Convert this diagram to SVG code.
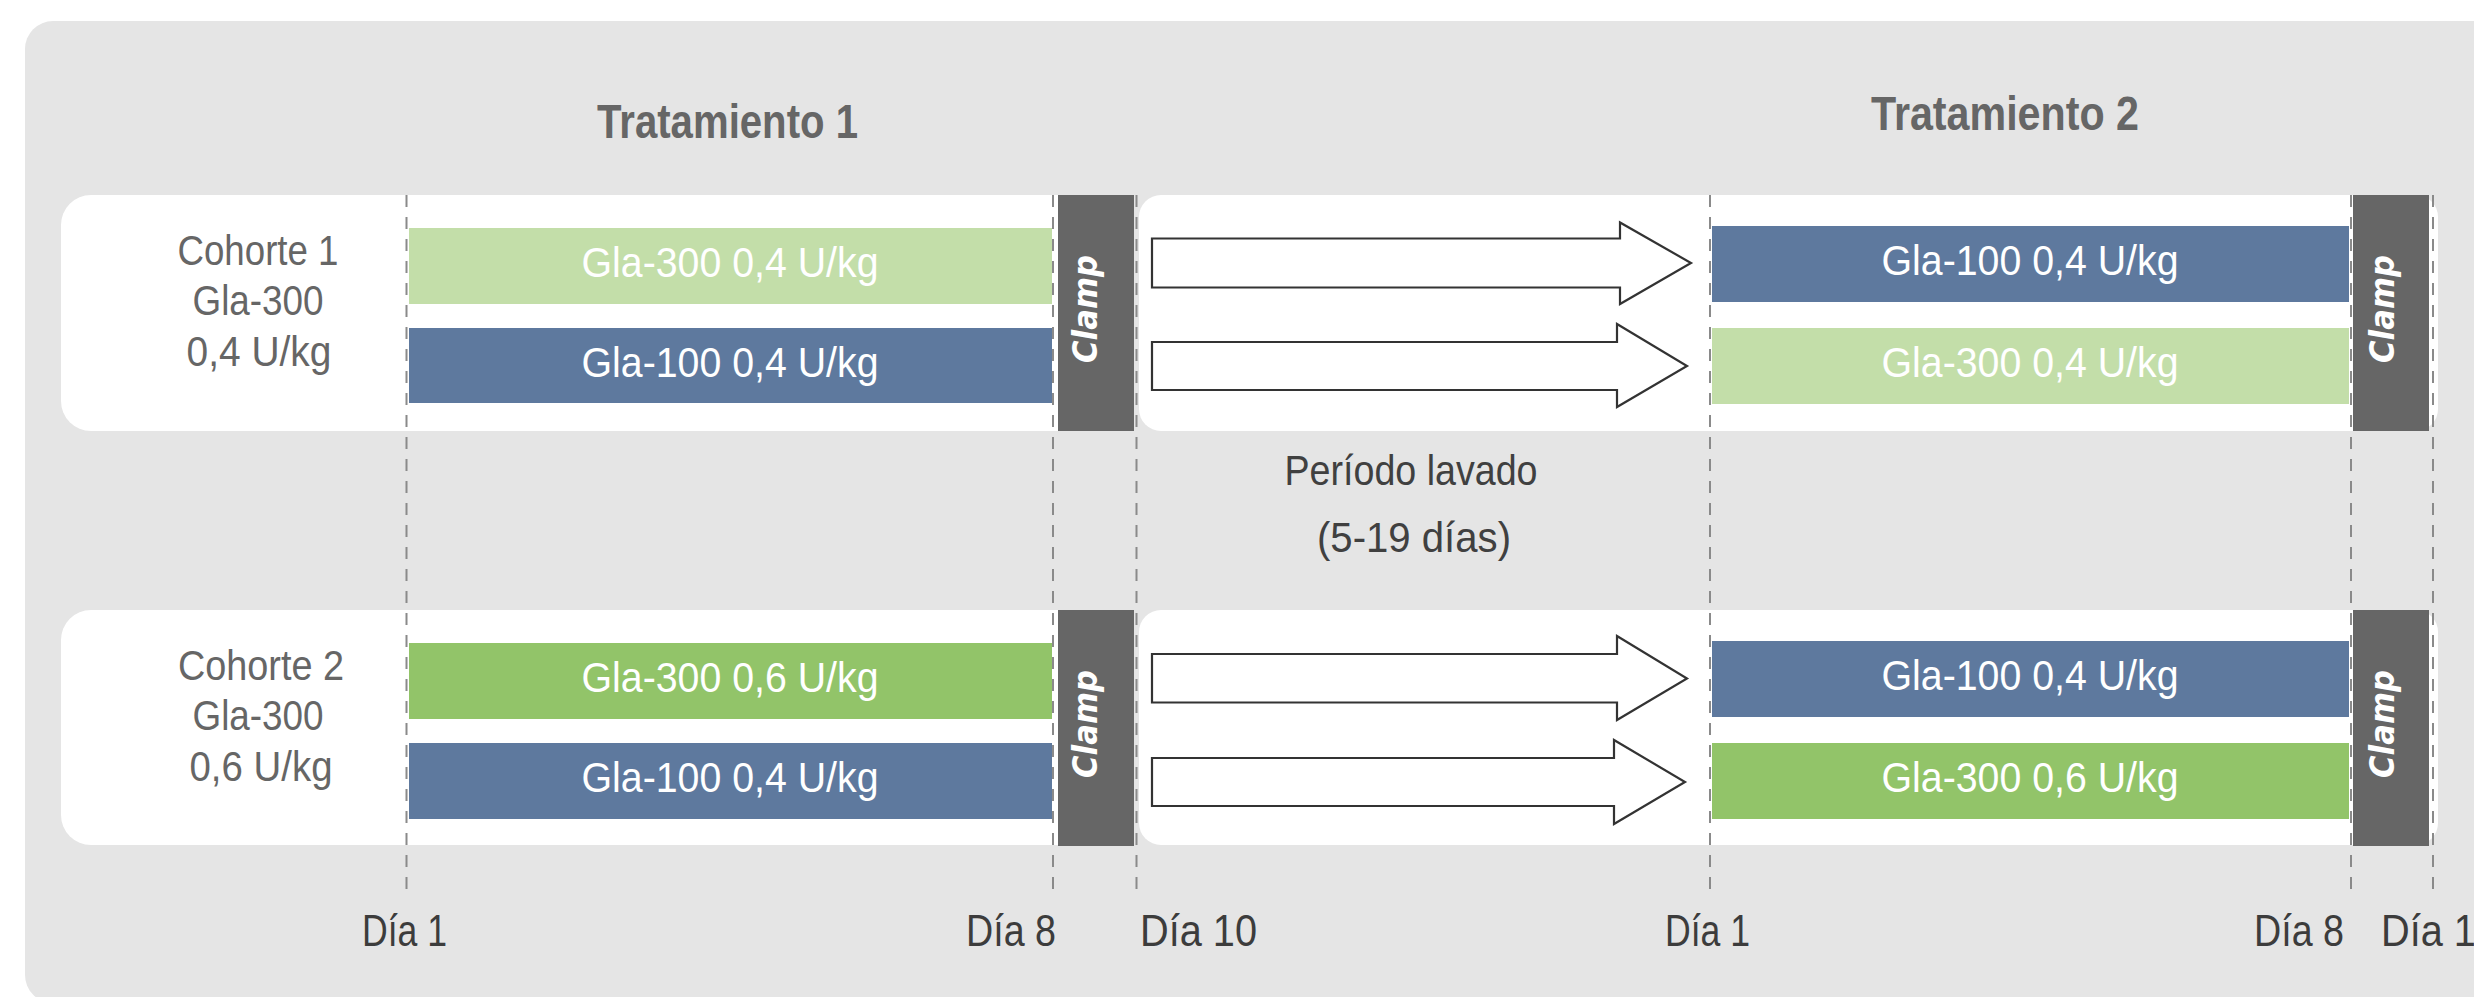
<svg xmlns="http://www.w3.org/2000/svg" width="2474" height="997" viewBox="0 0 2474 997">
  <style>
    .lbl { font-family: "Liberation Sans", Arial, sans-serif; }
    .title { font-size: 48px; font-weight: bold; fill: #666666; text-anchor: middle; }
    .cohort { font-size: 42px; fill: #666666; text-anchor: middle; }
    .bartxt { font-size: 42px; fill: #ffffff; text-anchor: middle; }
    .note { font-size: 42px; fill: #404040; text-anchor: middle; }
    .day { font-size: 44px; fill: #3c3c3c; }
    .clamp-txt { font-family: "DejaVu Sans", Verdana, sans-serif; font-size: 34px; font-weight: bold; font-style: italic; fill: #ffffff; text-anchor: middle; }
    .row { fill: #ffffff; }
    .clamp { fill: #666666; }
    .g300a { fill: #c3dea9; }
    .g300b { fill: #92c469; }
    .g100 { fill: #5e799e; }
    .guide { stroke: #8a8a8a; stroke-width: 2; stroke-dasharray: 12 10; fill: none; }
    .arrow { fill: #ffffff; stroke: #333333; stroke-width: 2.2; stroke-linejoin: miter; }
  </style>

  <!-- background panel -->
  <rect x="25" y="21" width="2520" height="982" rx="28" fill="#e5e5e5"/>

  <!-- row backgrounds -->
  <g id="row1-bg">
    <rect class="row" x="61" y="195" width="1073" height="236" rx="30"/>
    <rect class="row" x="1139" y="195" width="1299" height="236" rx="22"/>
  </g>
  <g id="row2-bg">
    <rect class="row" x="61" y="610" width="1073" height="235" rx="30"/>
    <rect class="row" x="1139" y="610" width="1299" height="235" rx="22"/>
  </g>

  <!-- titles -->
  <g id="title-t1"><text class="lbl title" x="727.5" y="138" textLength="261" lengthAdjust="spacingAndGlyphs">Tratamiento 1</text></g>
  <g id="title-t2"><text class="lbl title" x="2005" y="130" textLength="268" lengthAdjust="spacingAndGlyphs">Tratamiento 2</text></g>

  <!-- cohort labels -->
  <g id="cohort1">
    <text class="lbl cohort" x="258" y="265" textLength="161" lengthAdjust="spacingAndGlyphs">Cohorte 1</text>
    <text class="lbl cohort" x="258" y="315" textLength="131" lengthAdjust="spacingAndGlyphs">Gla-300</text>
    <text class="lbl cohort" x="259" y="366" textLength="145" lengthAdjust="spacingAndGlyphs">0,4 U/kg</text>
  </g>
  <g id="cohort2">
    <text class="lbl cohort" x="261" y="680" textLength="166" lengthAdjust="spacingAndGlyphs">Cohorte 2</text>
    <text class="lbl cohort" x="258" y="730" textLength="131" lengthAdjust="spacingAndGlyphs">Gla-300</text>
    <text class="lbl cohort" x="261" y="781" textLength="143" lengthAdjust="spacingAndGlyphs">0,6 U/kg</text>
  </g>

  <!-- day guides -->
  <g id="guides">
    <line class="guide" x1="406.5" y1="195" x2="406.5" y2="895"/>
    <line class="guide" x1="1053" y1="195" x2="1053" y2="895"/>
    <line class="guide" x1="1136.5" y1="195" x2="1136.5" y2="895"/>
    <line class="guide" x1="1710" y1="195" x2="1710" y2="895"/>
    <line class="guide" x1="2351" y1="195" x2="2351" y2="895"/>
    <line class="guide" x1="2433" y1="195" x2="2433" y2="895"/>
  </g>

  <!-- treatment bars, cohort 1 -->
  <g id="c1-t1-gla300">
    <rect class="g300a" x="409" y="228" width="643" height="76"/>
    <text class="lbl bartxt" x="730" y="277" textLength="297" lengthAdjust="spacingAndGlyphs">Gla-300 0,4 U/kg</text>
  </g>
  <g id="c1-t1-gla100">
    <rect class="g100" x="409" y="328" width="643" height="75"/>
    <text class="lbl bartxt" x="730" y="377" textLength="297" lengthAdjust="spacingAndGlyphs">Gla-100 0,4 U/kg</text>
  </g>
  <g id="c1-t2-gla100">
    <rect class="g100" x="1712" y="226" width="637" height="76"/>
    <text class="lbl bartxt" x="2030" y="275" textLength="297" lengthAdjust="spacingAndGlyphs">Gla-100 0,4 U/kg</text>
  </g>
  <g id="c1-t2-gla300">
    <rect class="g300a" x="1712" y="328" width="637" height="76"/>
    <text class="lbl bartxt" x="2030" y="377" textLength="297" lengthAdjust="spacingAndGlyphs">Gla-300 0,4 U/kg</text>
  </g>

  <!-- treatment bars, cohort 2 -->
  <g id="c2-t1-gla300">
    <rect class="g300b" x="409" y="643" width="643" height="76"/>
    <text class="lbl bartxt" x="730" y="692" textLength="297" lengthAdjust="spacingAndGlyphs">Gla-300 0,6 U/kg</text>
  </g>
  <g id="c2-t1-gla100">
    <rect class="g100" x="409" y="743" width="643" height="76"/>
    <text class="lbl bartxt" x="730" y="792" textLength="297" lengthAdjust="spacingAndGlyphs">Gla-100 0,4 U/kg</text>
  </g>
  <g id="c2-t2-gla100">
    <rect class="g100" x="1712" y="641" width="637" height="76"/>
    <text class="lbl bartxt" x="2030" y="690" textLength="297" lengthAdjust="spacingAndGlyphs">Gla-100 0,4 U/kg</text>
  </g>
  <g id="c2-t2-gla300">
    <rect class="g300b" x="1712" y="743" width="637" height="76"/>
    <text class="lbl bartxt" x="2030" y="792" textLength="297" lengthAdjust="spacingAndGlyphs">Gla-300 0,6 U/kg</text>
  </g>

  <!-- clamp blocks -->
  <g id="clamp-c1-t1">
    <rect class="clamp" x="1058" y="195" width="76" height="236"/>
    <text class="clamp-txt" transform="translate(1097,309) rotate(-90)" textLength="108" lengthAdjust="spacingAndGlyphs">Clamp</text>
  </g>
  <g id="clamp-c1-t2">
    <rect class="clamp" x="2353" y="195" width="76" height="236"/>
    <text class="clamp-txt" transform="translate(2394,309) rotate(-90)" textLength="108" lengthAdjust="spacingAndGlyphs">Clamp</text>
  </g>
  <g id="clamp-c2-t1">
    <rect class="clamp" x="1058" y="610" width="76" height="236"/>
    <text class="clamp-txt" transform="translate(1097,724) rotate(-90)" textLength="108" lengthAdjust="spacingAndGlyphs">Clamp</text>
  </g>
  <g id="clamp-c2-t2">
    <rect class="clamp" x="2353" y="610" width="76" height="236"/>
    <text class="clamp-txt" transform="translate(2394,724) rotate(-90)" textLength="108" lengthAdjust="spacingAndGlyphs">Clamp</text>
  </g>

  <!-- washout arrows -->
  <g id="connectors">
    <path class="arrow" d="M1152,238.5 H1620 V222.5 L1691,263 L1620,304 V287.5 H1152 Z"/>
    <path class="arrow" d="M1152,342 H1617 V324 L1687,366 L1617,407 V390 H1152 Z"/>
    <path class="arrow" d="M1152,654 H1617 V636 L1687,678.5 L1617,720 V702.5 H1152 Z"/>
    <path class="arrow" d="M1152,758 H1614 V740 L1685,782 L1614,824 V806 H1152 Z"/>
  </g>

  <!-- washout label -->
  <g id="washout">
    <text class="lbl note" x="1411" y="485" textLength="253" lengthAdjust="spacingAndGlyphs">Período lavado</text>
    <text class="lbl note" x="1414" y="552" textLength="194" lengthAdjust="spacingAndGlyphs">(5-19 días)</text>
  </g>

  <!-- day axis -->
  <g id="days">
    <text class="lbl day" x="362" y="946" textLength="85" lengthAdjust="spacingAndGlyphs">Día 1</text>
    <text class="lbl day" x="966" y="946" textLength="90" lengthAdjust="spacingAndGlyphs">Día 8</text>
    <text class="lbl day" x="1140" y="946" textLength="117" lengthAdjust="spacingAndGlyphs">Día 10</text>
    <text class="lbl day" x="1665" y="946" textLength="85" lengthAdjust="spacingAndGlyphs">Día 1</text>
    <text class="lbl day" x="2254" y="946" textLength="90" lengthAdjust="spacingAndGlyphs">Día 8</text>
    <text class="lbl day" x="2381" y="946" textLength="117" lengthAdjust="spacingAndGlyphs">Día 10</text>
  </g>
</svg>
